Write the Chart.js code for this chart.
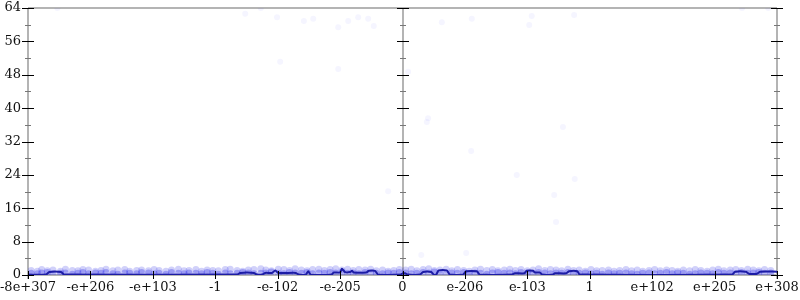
<!DOCTYPE html>
<html><head><meta charset="utf-8">
<script src="https://cdn.jsdelivr.net/npm/chart.js@4/dist/chart.umd.min.js"></script>
<style>html,body{margin:0;padding:0;background:#fff}</style>
</head><body>
<canvas id="c" width="800" height="300"></canvas>
<script>
const xLabels = ["-8e+307","-e+206","-e+103","-1","-e-102","-e-205","0","e-206","e-103","1","e+102","e+205","e+308"];
const yTicks = [0,8,16,24,32,40,48,56,64];

const lineX = [0,0.29,0.34,0.53,0.58,3.35,3.40,3.62,3.67,3.75,3.80,3.91,3.96,4.01,4.29,4.34,4.45,4.49,4.53,4.86,4.90,5.00,5.03,5.08,5.16,5.19,5.22,5.42,5.46,5.56,5.61,5.96,6.01,6.04,6.09,6.28,6.33,6.46,6.50,6.54,6.58,6.71,6.76,6.97,7.02,7.19,7.24,7.75,7.80,7.95,7.99,8.09,8.12,8.20,8.24,8.41,8.44,8.62,8.67,8.80,8.84,11.28,11.33,11.50,11.55,11.68,11.73,12];
const lineY = [0.1,0.1,0.7,0.7,0.1,0.1,0.5,0.5,0.1,0.1,0.5,0.5,1.1,0.5,0.5,0.1,0.1,0.9,0.1,0.1,0.6,0.6,1.5,0.7,0.7,1.0,0.6,0.6,1.0,1.0,0.1,0.1,0.4,0.4,0.1,0.1,0.7,0.7,0.1,0.1,1.1,1.1,0.1,0.1,0.9,0.9,0.1,0.1,0.4,0.4,1.0,1.0,0.6,0.6,0.1,0.1,0.4,0.4,0.9,0.9,0.1,0.1,0.8,0.8,0.3,0.3,0.8,0.8];

const bandX = [0.05,0.15,0.22,0.31,0.4,0.52,0.6,0.71,0.8,0.88,
0.97,1.08,1.17,1.25,1.36,1.44,1.55,1.63,1.74,1.82,
1.93,2.02,2.1,2.21,2.3,2.41,2.5,2.58,2.69,2.78,
2.87,2.96,3.05,3.16,3.24,3.35,3.44,3.53,3.62,3.73,
3.81,3.9,4.01,4.1,4.19,4.28,4.38,4.47,4.56,4.66,
4.75,4.84,4.93,5.03,5.12,5.21,5.3,5.4,5.49,5.58,
5.68,5.77,5.86,5.95,6.05,6.14,6.23,6.33,6.42,6.51,
6.6,6.7,6.79,6.88,6.98,7.07,7.16,7.25,7.35,7.44,
7.53,7.63,7.72,7.81,7.9,8.0,8.09,8.18,8.28,8.37,
8.46,8.55,8.65,8.74,8.83,8.93,9.02,9.11,9.2,9.3,
9.39,9.48,9.58,9.67,9.76,9.85,9.95,10.04,10.13,10.23,
10.32,10.41,10.5,10.6,10.69,10.78,10.88,10.97,11.06,11.15,
11.25,11.34,11.43,11.53,11.62,11.71,11.8,11.9];
const bandLow = [0.4,0.3,0.5,0.6,0.3,0.4,0.5,0.2,0.4,0.6,
0.3,0.5,0.4,0.6,0.3,0.2,0.5,0.4,0.3,0.6,
0.5,0.3,0.4,0.2,0.6,0.4,0.3,0.5,0.4,0.3,
0.6,0.4,0.2,0.5,0.3,0.4,0.6,0.5,0.3,0.4,
0.5,0.7,0.4,0.3,0.6,0.5,0.4,0.6,0.3,0.5,
0.4,0.6,0.5,0.7,0.4,0.5,0.3,0.6,0.5,0.4,
0.3,0.5,0.4,0.6,0.5,0.3,0.4,0.6,0.5,0.7,
0.4,0.3,0.5,0.4,0.6,0.3,0.5,0.4,0.2,0.5,
0.6,0.4,0.5,0.3,0.6,0.5,0.4,0.6,0.5,0.3,
0.5,0.4,0.6,0.3,0.4,0.5,0.3,0.4,0.2,0.5,
0.3,0.4,0.5,0.3,0.2,0.4,0.5,0.3,0.4,0.6,
0.3,0.5,0.4,0.2,0.3,0.5,0.4,0.3,0.6,0.4,
0.5,0.3,0.6,0.4,0.5,0.6,0.4,0.5];
const bandHigh = [1.1,0.9,1.3,1.0,1.2,0.9,1.4,1.1,1.0,1.3,
1.2,0.9,1.1,1.4,1.0,1.2,1.3,0.9,1.1,1.2,
1.0,1.3,1.1,0.9,1.2,1.4,1.0,1.1,1.3,0.9,
1.2,1.1,1.0,1.3,1.4,1.1,0.9,1.2,1.3,1.5,
1.2,1.0,1.4,1.3,1.1,1.5,1.2,1.0,1.3,1.4,
1.1,1.3,1.5,1.2,1.4,1.1,1.3,1.2,1.4,1.0,
1.2,0.9,1.1,1.3,1.2,1.4,1.0,1.3,1.5,1.1,
1.2,1.4,1.0,1.3,1.1,0.9,1.2,1.4,1.1,1.3,
1.0,1.2,1.4,1.1,1.3,1.0,1.2,1.5,1.1,1.3,
1.2,1.0,1.4,1.1,1.2,0.9,1.3,1.0,1.1,1.2,
0.9,1.1,1.3,1.0,1.2,0.9,1.1,1.3,1.0,1.2,
1.1,0.9,1.2,1.0,1.3,1.1,0.9,1.2,1.4,1.0,
1.2,1.3,1.1,1.4,1.2,1.0,1.3,1.1];

const outX = [0.47,3.48,3.73,3.99,4.04,4.42,4.57,4.97,4.97,5.13,5.29,5.45,5.54,5.77,6.09,6.41,6.39,6.63,7.11,8.07,8.03,8.75,11.44,11.86,8.57,7.10,7.83,8.76,8.43,8.46,6.30,7.02];
const outY = [64.0,62.6,64.0,61.8,51.1,60.9,61.4,59.4,49.4,60.9,61.8,61.4,59.7,20.1,48.7,37.6,36.7,60.6,61.4,62.1,59.9,62.3,64.0,64.0,35.5,29.7,24.0,23.0,19.2,12.7,4.8,5.3];

const toPts = (xs, ys) => xs.map((x, i) => ({x: x, y: ys[i]}));

const framePlugin = {
  id: 'frame',
  beforeDatasetsDraw(chart) {
    const {ctx, scales: {x, y}} = chart;
    ctx.save();
    ctx.strokeStyle = '#b4b4b4';
    ctx.lineWidth = 2;
    ctx.beginPath();
    [0, 6, 12].forEach(v => {
      const px = Math.round(x.getPixelForValue(v));
      ctx.moveTo(px, y.getPixelForValue(64));
      ctx.lineTo(px, y.getPixelForValue(0) + 4);
    });
    ctx.moveTo(x.getPixelForValue(0), y.getPixelForValue(64));
    ctx.lineTo(x.getPixelForValue(12), y.getPixelForValue(64));
    ctx.moveTo(x.getPixelForValue(0), y.getPixelForValue(0));
    ctx.lineTo(x.getPixelForValue(12), y.getPixelForValue(0));
    ctx.stroke();
    ctx.restore();
  },
  afterDatasetsDraw(chart) {
    const {ctx, scales: {x, y}} = chart;
    ctx.save();
    ctx.lineWidth = 1;
    [0, 6, 12].forEach(v => {
      const px = Math.round(x.getPixelForValue(v));
      ctx.strokeStyle = '#000';
      ctx.beginPath();
      yTicks.forEach(t => {
        const py = Math.round(y.getPixelForValue(t)) + 0.5;
        ctx.moveTo(px - 6, py); ctx.lineTo(px + 6, py);
      });
      ctx.stroke();
      ctx.strokeStyle = '#777';
      ctx.beginPath();
      for (let k = 0; k < yTicks.length - 1; k++) {
        const py = Math.round(y.getPixelForValue((yTicks[k] + yTicks[k + 1]) / 2)) + 0.5;
        ctx.moveTo(px - 3, py); ctx.lineTo(px + 3, py);
      }
      ctx.stroke();
    });
    ctx.strokeStyle = '#000';
    ctx.beginPath();
    const by = y.getPixelForValue(0);
    xLabels.forEach((l, i) => {
      const px = Math.round(x.getPixelForValue(i)) + 0.5;
      ctx.moveTo(px, by - 4); ctx.lineTo(px, by + 4);
    });
    ctx.stroke();
    ctx.restore();
  }
};

new Chart(document.getElementById('c'), {
  type: 'scatter',
  data: {
    datasets: [
      {
        data: toPts(lineX, lineY),
        showLine: true,
        borderColor: 'rgb(28,28,165)',
        borderWidth: 2,
        pointRadius: 0,
        tension: 0.2,
        fill: false
      },
      {
        data: toPts(outX, outY),
        pointRadius: 3,
        pointBorderWidth: 0,
        backgroundColor: 'rgba(60,60,255,0.05)',
        borderColor: 'rgba(0,0,0,0)'
      },
      {
        data: toPts(bandX, bandLow),
        pointRadius: 3.5,
        pointBorderWidth: 0,
        backgroundColor: 'rgba(45,45,230,0.32)',
        borderColor: 'rgba(0,0,0,0)'
      },
      {
        data: toPts(bandX, bandHigh),
        pointRadius: 3.5,
        pointBorderWidth: 0,
        backgroundColor: 'rgba(45,45,230,0.22)',
        borderColor: 'rgba(0,0,0,0)'
      }
    ]
  },
  options: {
    responsive: false,
    animation: false,
    devicePixelRatio: 1,
    layout: {padding: {top: 8, right: 23, left: 0, bottom: 0}},
    plugins: {legend: {display: false}, tooltip: {enabled: false}},
    scales: {
      x: {
        type: 'linear', min: 0, max: 12,
        grid: {display: false, drawTicks: false},
        border: {display: false},
        afterFit: s => { s.height = 25; s.paddingLeft = 0; s.paddingRight = 0; },
        afterBuildTicks: s => { s.ticks = xLabels.map((l, i) => ({value: i})); },
        ticks: {
          autoSkip: false, maxRotation: 0, padding: 5,
          color: '#111',
          font: {family: 'DejaVu Serif', size: 13},
          callback: (v) => xLabels[Math.round(v)]
        }
      },
      y: {
        type: 'linear', min: 0, max: 64,
        grid: {display: false, drawTicks: false},
        border: {display: false},
        afterFit: s => { s.width = 28; s.paddingTop = 0; s.paddingBottom = 0; },
        afterBuildTicks: s => { s.ticks = yTicks.map(v => ({value: v})); },
        ticks: {
          padding: 7,
          color: '#111',
          font: {family: 'DejaVu Serif', size: 13}
        }
      }
    }
  },
  plugins: [framePlugin]
});
</script>
</body></html>
